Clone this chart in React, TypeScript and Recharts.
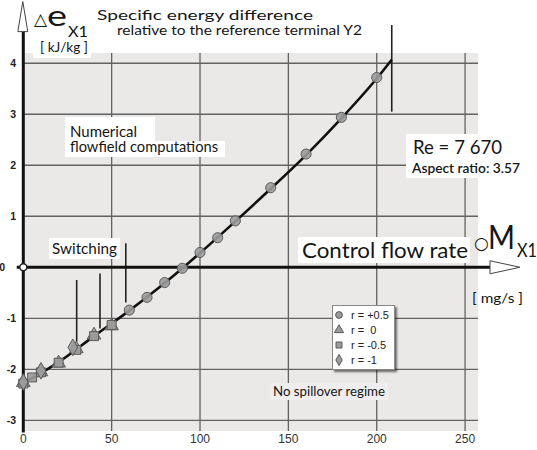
import {
  ComposedChart,
  Line,
  Scatter,
  XAxis,
  YAxis,
  ZAxis,
  ReferenceArea,
  ReferenceLine,
  ReferenceDot,
  Legend,
  Symbols,
} from "recharts";

// control flow rate [mg/s] vs specific energy difference [kJ/kg]
const curveX = [0, 20, 40, 60, 80, 100, 120, 140, 160, 180, 200, 208.5];
const curveY = [-2.27, -1.86, -1.35, -0.85, -0.31, 0.28, 0.9, 1.54, 2.2, 2.92, 3.7, 4.07];

const rPlusHalfX = [60, 70, 80, 90, 100, 110, 120, 140, 160, 180, 200];
const rPlusHalfY = [-0.84, -0.59, -0.3, -0.02, 0.29, 0.58, 0.91, 1.56, 2.22, 2.94, 3.72];
const rZeroX = [0, 10, 20, 30, 40, 50];
const rZeroY = [-2.26, -2.05, -1.88, -1.6, -1.33, -1.15];
const rMinusHalfX = [0, 5, 10, 20, 30, 40, 50];
const rMinusHalfY = [-2.28, -2.16, -2.06, -1.87, -1.62, -1.35, -1.13];
const rMinusOneX = [0, 10, 28];
const rMinusOneY = [-2.25, -2.03, -1.57];

const xTicks = [0, 50, 100, 150, 200, 250];
const yTicks = [-3, -2, -1, 0, 1, 2, 3, 4];
const gridX = [50, 100, 150, 200, 250];
const gridY = [-3, -2, -1, 1, 2, 3, 4];

const seriesNames = ["r = +0.5", "r =  0", "r = -0.5", "r = -1"];
const seriesShapes = ["circle", "triangle", "square", "diamond"] as const;

// vertical "switching" markers and the end marker of the curve
const switchMarks = [
  { x: 30.2, y1: -0.25, y2: -1.46 },
  { x: 43.4, y1: -0.12, y2: -1.2 },
  { x: 58, y1: 0.47, y2: -0.69 },
  { x: 208.5, y1: 3.05, y2: 4.75 },
];

const X_MIN = -4.13;
const X_MAX = 290.7;
const Y_MIN = -3.21;
const Y_MAX = 5.24;
const BG_X = [0, 257.3];
const BG_Y = [-3.21, 4.2];

const toPts = (xs: number[], ys: number[]) => xs.map((x, i) => ({ x, y: ys[i] }));
const curve = toPts(curveX, curveY);
const series = [
  toPts(rPlusHalfX, rPlusHalfY),
  toPts(rZeroX, rZeroY),
  toPts(rMinusHalfX, rMinusHalfY),
  toPts(rMinusOneX, rMinusOneY),
];

const MARK_FILL = "#9b9b9b";
const MARK_STROKE = "#5a5a5a";
const GRID = "#626262";
const INK = "#151515";

const renderXTick = ({ x, y, payload }: any) => (
  <text x={x} y={y + 12} textAnchor="middle" fontFamily="Liberation Sans, Arial" fontSize={12} fill="#333">
    {payload.value}
  </text>
);

const renderYTick = ({ x, y, payload }: any) => (
  <text
    x={payload.value === 0 ? 5 : x}
    y={y + 4}
    textAnchor="end"
    fontFamily="Liberation Sans, Arial"
    fontWeight="bold"
    fontSize={10.5}
    fill="#222"
  >
    {payload.value}
  </text>
);

const LegendBox = () => (
  <div
    style={{
      background: "#fff",
      border: "1px solid #888",
      boxShadow: "2px 2px 2px rgba(0,0,0,0.55)",
      width: 61,
      padding: "1px 0 2px 0",
      fontFamily: "Liberation Sans, Arial",
      fontSize: 11,
      color: "#222",
    }}
  >
    {seriesNames.map((name, i) => (
      <div key={name} style={{ display: "flex", alignItems: "center", height: 15 }}>
        <svg width={18} height={12} style={{ flex: "none" }}>
          <Symbols cx={6} cy={6} type={seriesShapes[i]} size={36} fill={MARK_FILL} stroke={MARK_STROKE} />
        </svg>
        <span style={{ whiteSpace: "pre" }}>{name}</span>
      </div>
    ))}
  </div>
);

type NoteProps = {
  x: number;
  y: number;
  size: number;
  text: string;
  len?: number;
  family?: string;
  weight?: number | string;
};

const Note = ({ x, y, size, text, len, family = "Lato, sans-serif", weight = "normal" }: NoteProps) => (
  <text
    x={x}
    y={y}
    fontSize={size}
    fontFamily={family}
    fontWeight={weight}
    fill={INK}
    textLength={len}
    lengthAdjust={len ? "spacingAndGlyphs" : undefined}
    style={{ whiteSpace: "pre" }}
  >
    {text}
  </text>
);

export default function App() {
  return (
    <div style={{ position: "absolute", left: 0, top: 0, width: 537, height: 450, background: "#fff" }}>
      <ComposedChart width={537} height={450} margin={{ top: 0, right: 0, bottom: 0, left: 0 }}>
        <XAxis
          type="number"
          dataKey="x"
          domain={[X_MIN, X_MAX]}
          ticks={xTicks}
          allowDataOverflow
          interval={0}
          height={19}
          axisLine={false}
          tickLine={false}
          tickSize={0}
          tickMargin={0}
          tick={renderXTick}
        />
        <YAxis
          type="number"
          dataKey="y"
          domain={[Y_MIN, Y_MAX]}
          ticks={yTicks}
          allowDataOverflow
          interval={0}
          width={16}
          axisLine={false}
          tickLine={false}
          tickSize={0}
          tickMargin={0}
          tick={renderYTick}
        />
        <ZAxis range={[80, 80]} />

        {/* grey computation field with its grid */}
        <ReferenceArea
          x1={BG_X[0]}
          x2={BG_X[1]}
          y1={BG_Y[0]}
          y2={BG_Y[1]}
          fill="#ebe9e8"
          fillOpacity={1}
          stroke="none"
          ifOverflow="visible"
        />
        {gridX.map((gx) => (
          <ReferenceLine
            key={`gx${gx}`}
            segment={[{ x: gx, y: BG_Y[0] }, { x: gx, y: BG_Y[1] }]}
            stroke={GRID}
            strokeWidth={1.3}
            ifOverflow="visible"
          />
        ))}
        {gridY.map((gy) => (
          <ReferenceLine
            key={`gy${gy}`}
            segment={[{ x: 0, y: gy }, { x: BG_X[1], y: gy }]}
            stroke={GRID}
            strokeWidth={1.3}
            ifOverflow="visible"
          />
        ))}
        {switchMarks.map((m, i) => (
          <ReferenceLine
            key={`sw${i}`}
            segment={[{ x: m.x, y: m.y1 }, { x: m.x, y: m.y2 }]}
            stroke="#222"
            strokeWidth={1.6}
            ifOverflow="visible"
          />
        ))}

        {series.map((pts, i) => (
          <Scatter
            key={seriesNames[i]}
            name={seriesNames[i]}
            data={pts}
            shape={seriesShapes[i]}
            fill={MARK_FILL}
            fillOpacity={0.9}
            stroke={MARK_STROKE}
            strokeWidth={1}
            isAnimationActive={false}
          />
        ))}
        <Line
          data={curve}
          dataKey="y"
          type="monotone"
          stroke="#111"
          strokeWidth={2.6}
          dot={false}
          activeDot={false}
          isAnimationActive={false}
          legendType="none"
        />

        {/* axes drawn as thick arrows through the origin */}
        <ReferenceLine
          segment={[{ x: 0, y: -3.24 }, { x: 0, y: 4.62 }]}
          stroke="#111"
          strokeWidth={3}
          ifOverflow="visible"
        />
        <ReferenceLine
          segment={[{ x: -3.7, y: 0 }, { x: 264.1, y: 0 }]}
          stroke="#111"
          strokeWidth={3}
          ifOverflow="visible"
        />
        <ReferenceDot
          x={0}
          y={4.62}
          ifOverflow="visible"
          shape={(p: any) => (
            <polygon
              points={`${p.cx - 5.5},${p.cy} ${p.cx - 0.5},${p.cy - 30} ${p.cx + 4.5},${p.cy}`}
              fill="#fff"
              stroke="#444"
              strokeWidth={1}
            />
          )}
        />
        <ReferenceDot
          x={264.1}
          y={0}
          ifOverflow="visible"
          shape={(p: any) => (
            <polygon
              points={`${p.cx},${p.cy - 6.5} ${p.cx + 30},${p.cy} ${p.cx},${p.cy + 6.5}`}
              fill="#fff"
              stroke="#444"
              strokeWidth={1}
            />
          )}
        />
        <ReferenceDot x={0} y={0} r={3.5} fill="#fff" stroke="#222" strokeWidth={1.5} ifOverflow="visible" />

        <Legend
          layout="horizontal"
          align="center"
          verticalAlign="middle"
          content={<LegendBox />}
          wrapperStyle={{ position: "absolute", left: 332, top: 305, width: 63, height: 62 }}
        />
      </ComposedChart>

      <svg
        width={537}
        height={450}
        style={{ position: "absolute", left: 0, top: 0, pointerEvents: "none" }}
      >
        {/* text backgrounds */}
        <rect x={33} y={40} width={58} height={18} fill="#fff" />
        <rect x={65} y={117} width={90} height={24} fill="#fff" />
        <rect x={65} y={141} width={160} height={16} fill="#fff" />
        <rect x={406} y={134} width={120} height={44} fill="#fff" />
        <rect x={49} y={238} width={71} height={21} fill="#fff" />
        <rect x={298} y={237} width={172} height={26} fill="#fff" />
        <rect x={270} y={383} width={118} height={17} fill="#efeded" />

        <Note x={34} y={25} size={17} text="△" family="DejaVu Sans" />
        <Note x={47} y={26} size={28} text="e" len={20} />
        <Note x={68} y={37} size={16} text="X1" len={20} />
        <Note x={40} y={52} size={12.5} text="[ kJ/kg ]" len={48} />
        <Note x={97} y={20} size={14} text="Specific energy difference" len={216} />
        <Note x={117} y={35} size={14} text="relative to the reference terminal Y2" len={245} />
        <Note x={70} y={137} size={15} text="Numerical" len={67} />
        <Note x={70} y={152} size={15} text="flowfield computations" len={148} />
        <Note x={413} y={154} size={20} text="Re = 7 670" len={89} />
        <Note x={412} y={172.5} size={12.5} text="Aspect ratio: 3.57" len={108} weight={600} />
        <Note x={52} y={254} size={15} text="Switching" len={65} />
        <Note x={302} y={258} size={21} text="Control flow rate" len={166} />
        <Note x={474} y={249} size={17} text="○" family="DejaVu Sans" />
        <Note x={488} y={249} size={33} text="M" len={27} />
        <Note x={517} y={257} size={19} text="X1" len={20} />
        <Note x={472} y={303} size={14} text="[ mg/s ]" len={51} />
        <Note x={273} y={396} size={13} text="No spillover regime" len={112} />
      </svg>
    </div>
  );
}
